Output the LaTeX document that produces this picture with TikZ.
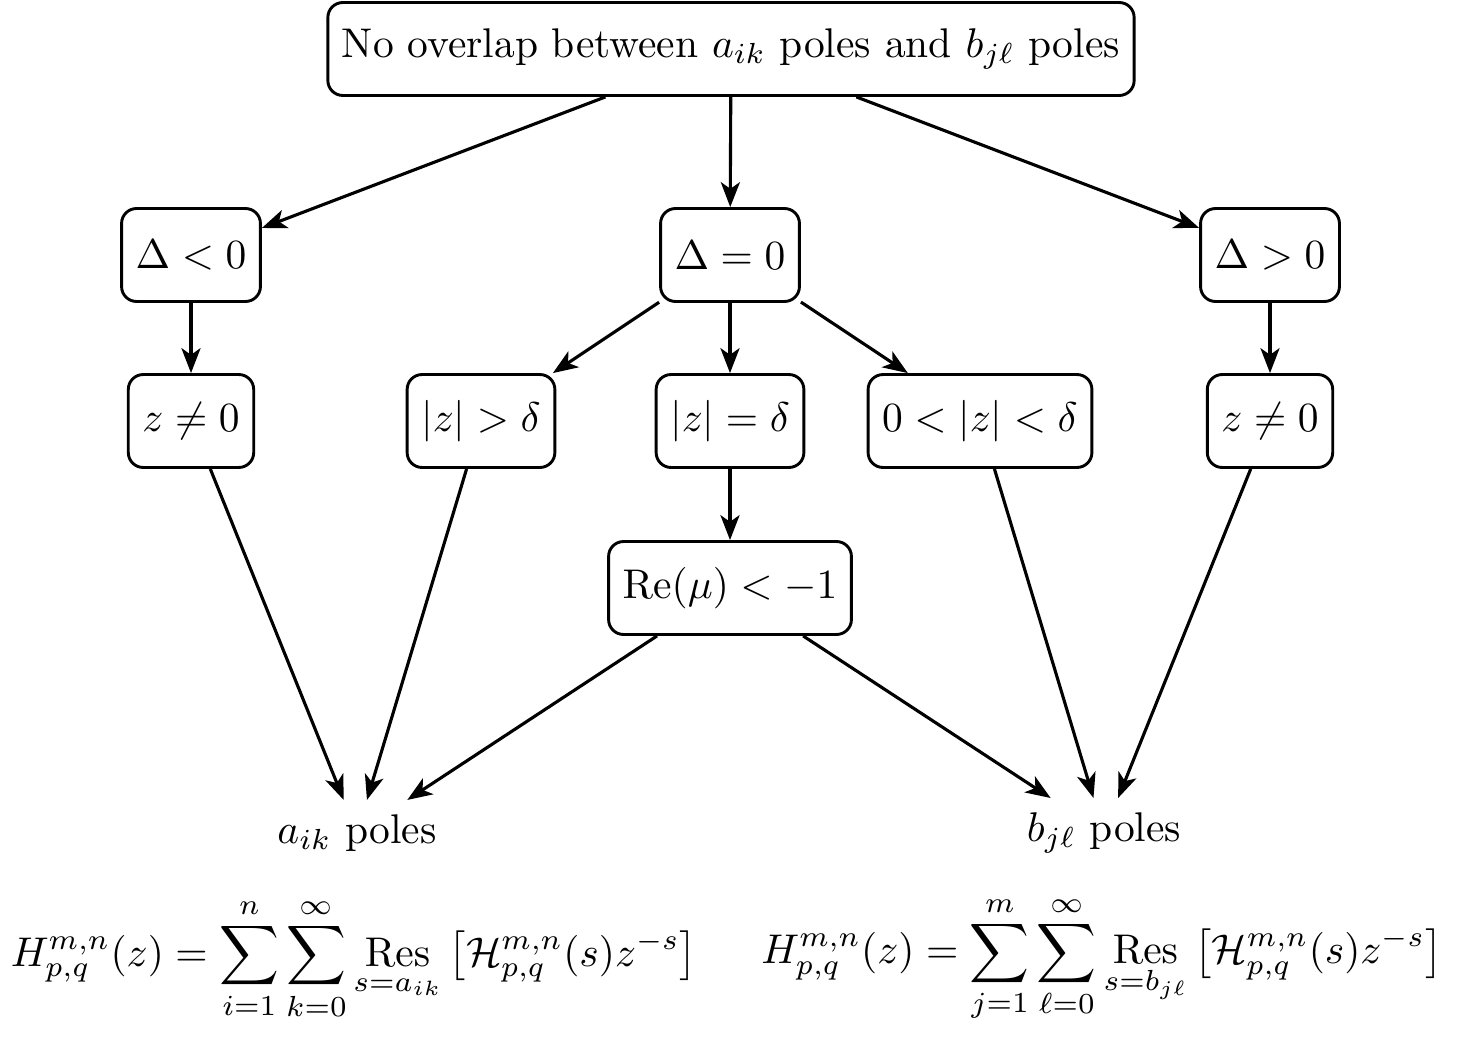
\documentclass[tikz,border=0pt]{standalone}
\usepackage{amsmath,amssymb}
\usetikzlibrary{arrows.meta}
\begin{document}
\begin{tikzpicture}[x=0.241pt,y=-0.241pt,
  box/.style={draw,rounded corners=3.6pt,line width=0.7pt,minimum height=22.4pt,inner xsep=3.4pt},
  lbl/.style={inner sep=3.33pt},
  arr/.style={-{Stealth[length=6pt,width=4.6pt,inset=1.6pt]},line width=0.75pt}]
\useasboundingbox (0,0) rectangle (1459,1039);
\node[box] (top) at (731,49) {No overlap between $a_{ik}$ poles and $b_{j\ell}$ poles};
\node[box] (dl) at (191,255) {$\Delta<0$};
\node[box] (de) at (730,255) {$\Delta=0$};
\node[box] (dg) at (1270,255) {$\Delta>0$};
\node[box] (zl) at (191,421) {$z\neq 0$};
\node[box] (zg) at (481,421) {$|z|>\delta$};
\node[box] (ze) at (730,421) {$|z|=\delta$};
\node[box] (zs) at (980,421) {$0<|z|<\delta$};
\node[box] (zr) at (1270,421) {$z\neq 0$};
\node[box] (re) at (730,588) {$\mathrm{Re}(\mu)<-1$};
\node[lbl] (a) at (357,833) {$a_{ik}$ poles};
\node[lbl] (b) at (1104,833) {$b_{j\ell}$ poles};
\node (fa) at (354,959) {$\displaystyle H_{p,q}^{m,n}(z)=\sum_{i=1}^{n}\sum_{k=0}^{\infty}\operatorname*{Res}_{s=a_{ik}}\big[\mathcal{H}_{p,q}^{m,n}(s)z^{-s}\big]$};
\node (fb) at (1102,959) {$\displaystyle H_{p,q}^{m,n}(z)=\sum_{j=1}^{m}\sum_{\ell=0}^{\infty}\operatorname*{Res}_{s=b_{j\ell}}\big[\mathcal{H}_{p,q}^{m,n}(s)z^{-s}\big]$};
\draw[arr] (top) -- (dl);
\draw[arr] (top) -- (de);
\draw[arr] (top) -- (dg);
\draw[arr] (dl) -- (zl);
\draw[arr] (de) -- (zg);
\draw[arr] (de) -- (ze);
\draw[arr] (de) -- (zs);
\draw[arr] (dg) -- (zr);
\draw[arr] (ze) -- (re);
\draw[arr] (zl) -- (a);
\draw[arr] (zg) -- (a);
\draw[arr] (re) -- (a);
\draw[arr] (re) -- (b);
\draw[arr] (zs) -- (b);
\draw[arr] (zr) -- (b);
\end{tikzpicture}
\end{document}
